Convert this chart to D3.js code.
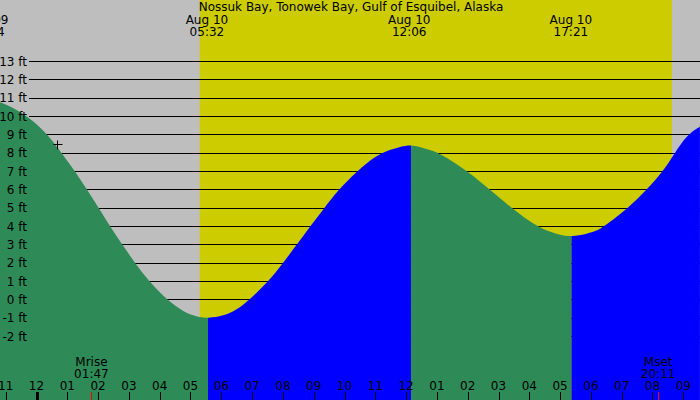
<!DOCTYPE html>
<html>
<head>
<meta charset="utf-8">
<script src="https://cdn.jsdelivr.net/npm/d3@7"></script>
<style>
  html, body { margin: 0; padding: 0; background: #bebebe; }
  svg { display: block; }
  text { font-family: "DejaVu Sans", sans-serif; font-size: 12px; fill: #000; }
</style>
</head>
<body>
<div id="chart"></div>
<script>
// title
const title = "Nossuk Bay, Tonowek Bay, Gulf of Esquibel, Alaska";

// tide curve, hours since Aug 10 00:00 and height in feet
const tideHours = [-1.6, -1.18, -0.24, 0.37, 0.82, 1.26, 1.64, 2.03, 2.39, 2.79, 3.2, 3.66, 4.23, 4.77, 5.2,
                   5.57, 6.07, 6.5, 6.91, 7.53, 8.0, 8.45, 8.88, 9.34, 9.8, 10.4, 10.72, 11.15, 11.79,
                   12.16, 12.44, 12.77, 13.1, 14.02, 14.72, 15.43, 16.24, 16.66, 16.99,
                   17.37, 17.86, 18.19, 18.42, 19.21, 19.81, 20.34, 20.72, 21.12, 21.54];
const tideFeet  = [10.9, 10.85, 10, 9, 8, 7, 6, 5, 4, 3, 2, 1, 0, -0.66, -0.92,
                   -1.01, -0.88, -0.55, 0, 1, 2, 3, 4, 5, 6, 7, 7.45, 8, 8.35,
                   8.45, 8.35, 8.17, 8, 7, 6, 5, 4, 3.72, 3.53,
                   3.44, 3.59, 3.77, 4, 5, 6, 7, 8, 9, 9.44];

// high / low tides (top labels)
const extremeHours  = [-1.6, 5.533, 12.1, 17.35];
const extremeDays   = ["Aug 09", "Aug 10", "Aug 10", "Aug 10"];
const extremeLabels = ["22:24", "05:32", "12:06", "17:21"];

// sunrise / sunset
const sunHours = [5.3, 20.63];

// moon
const moonHours  = [1.783, 20.183];
const moonNames  = ["Mrise", "Mset"];
const moonLabels = ["01:47", "20:11"];

// y axis ticks
const feetTicks = [-2, -1, 0, 1, 2, 3, 4, 5, 6, 7, 8, 9, 10, 11, 12, 13];

// x axis hours
const hourTicks  = [-1, 0, 1, 2, 3, 4, 5, 6, 7, 8, 9, 10, 11, 12, 13, 14, 15, 16, 17, 18, 19, 20, 21];
const hourLabels = ["11", "12", "01", "02", "03", "04", "05", "06", "07", "08", "09", "10",
                    "11", "12", "01", "02", "03", "04", "05", "06", "07", "08", "09"];

// current position marker
const markerHour = 0.66;
const markerFeet = 8.5;

const width = 700, height = 400;

const svg = d3.select("#chart").append("svg")
    .attr("width", width)
    .attr("height", height);

const x = d3.scaleLinear().domain([0, 21]).range([36.5, 683.3]);
const y = d3.scaleLinear().domain([-2, 13]).range([336.5, 61.5]);

// night background then daylight
svg.append("rect")
    .attr("width", width).attr("height", height)
    .attr("fill", "#bebebe");

svg.append("rect")
    .attr("x", x(sunHours[0]))
    .attr("width", x(sunHours[1]) - x(sunHours[0]))
    .attr("height", height)
    .attr("fill", "#cccc00");

// grid lines
svg.selectAll("line.grid")
    .data(feetTicks)
    .enter()
    .append("line")
    .attr("class", "grid")
    .attr("x1", 29).attr("x2", width)
    .attr("y1", d => Math.round(y(d) - 0.5) + 0.5)
    .attr("y2", d => Math.round(y(d) - 0.5) + 0.5)
    .attr("stroke", "#000")
    .attr("stroke-width", 1);

// tide area, green when falling, blue when rising
const tide = tideHours.map((h, i) => ({h: h, ft: tideFeet[i]}));
const area = d3.area()
    .x(d => x(d.h))
    .y0(height)
    .y1(d => y(d.ft))
    .curve(d3.curveBasis);

// turning points of the curve split it into falling / rising pieces
const turns = [0];
for (let i = 1; i < tideFeet.length - 1; i++) {
    if ((tideFeet[i] - tideFeet[i - 1]) * (tideFeet[i + 1] - tideFeet[i]) < 0) turns.push(i);
}
const segs = turns.map((t, k) => ({
    from: tideHours[t],
    to: k + 1 < turns.length ? tideHours[turns[k + 1]] : x.invert(width + 5),
    falling: tideFeet[t + 1] < tideFeet[t]
}));

const defs = svg.append("defs");
segs.forEach((s, i) => {
    const x0 = i === 0 ? -10 : x(s.from);
    defs.append("clipPath").attr("id", "seg" + i)
        .append("rect")
        .attr("x", x0).attr("y", 0)
        .attr("width", x(s.to) - x0).attr("height", height);
    svg.append("path")
        .datum(tide)
        .attr("d", area)
        .attr("clip-path", `url(#seg${i})`)
        .attr("fill", s.falling ? "#2e8b57" : "#0000ff");
});

// marker cross
const mx = Math.round(x(markerHour)) + 0.5, my = Math.round(y(markerFeet)) + 0.5;
svg.append("path")
    .attr("d", `M${mx - 4},${my}H${mx + 5}M${mx},${my - 4}V${my + 5}`)
    .attr("stroke", "#000")
    .attr("fill", "none");

// y labels
svg.selectAll("text.ylab")
    .data(feetTicks)
    .enter()
    .append("text")
    .attr("class", "ylab")
    .attr("x", 27)
    .attr("y", d => y(d) + 4.3)
    .attr("text-anchor", "end")
    .text(d => d + " ft");

// title
svg.append("text")
    .attr("x", 351).attr("y", 11)
    .attr("text-anchor", "middle")
    .text(title);

// extremes labels
extremeHours.forEach((h, i) => {
    svg.append("text")
        .attr("x", x(h)).attr("y", 24)
        .attr("text-anchor", "middle")
        .text(extremeDays[i]);
    svg.append("text")
        .attr("x", x(h)).attr("y", 36)
        .attr("text-anchor", "middle")
        .text(extremeLabels[i]);
});

// hour ticks and labels
svg.selectAll("text.hour")
    .data(hourTicks)
    .enter()
    .append("text")
    .attr("class", "hour")
    .attr("x", d => x(d))
    .attr("y", 390)
    .attr("text-anchor", "middle")
    .text((d, i) => hourLabels[i]);

svg.selectAll("line.hour")
    .data(hourTicks)
    .enter()
    .append("line")
    .attr("class", "hour")
    .attr("x1", d => Math.round(x(d)) + 0.5)
    .attr("x2", d => Math.round(x(d)) + 0.5)
    .attr("y1", 392).attr("y2", height)
    .attr("stroke", "#000")
    .attr("stroke-width", d => d === 0 ? 3 : 1);

// moon rise / set
moonHours.forEach((h, i) => {
    svg.append("text")
        .attr("x", x(h)).attr("y", 366)
        .attr("text-anchor", "middle")
        .text(moonNames[i]);
    svg.append("text")
        .attr("x", x(h)).attr("y", 378)
        .attr("text-anchor", "middle")
        .text(moonLabels[i]);
    svg.append("line")
        .attr("x1", Math.round(x(h)) + 0.5)
        .attr("x2", Math.round(x(h)) + 0.5)
        .attr("y1", 392).attr("y2", height)
        .attr("stroke", "#ff0000")
        .attr("stroke-width", 1);
});
</script>
</body>
</html>
